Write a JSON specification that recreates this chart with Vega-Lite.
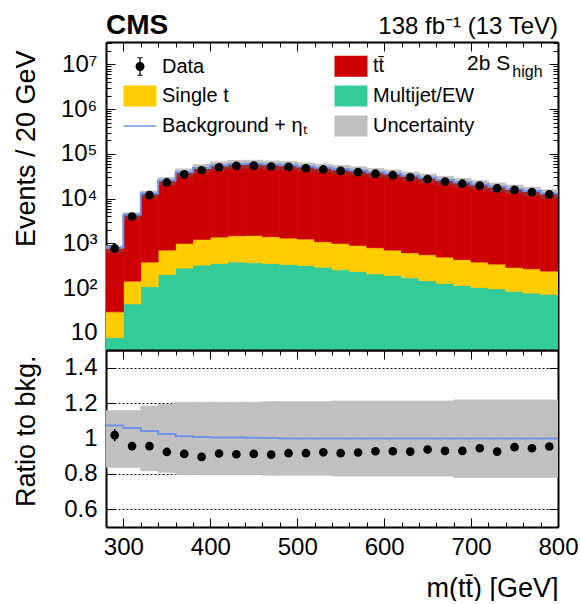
{
  "$schema": "https://vega.github.io/schema/vega-lite/v6.json",
  "background": "white",
  "padding": {"left": 11, "top": 12, "right": 0, "bottom": 0},
  "config": {
    "font": "Liberation Sans",
    "view": {"stroke": null},
    "axis": {
      "labelFont": "Liberation Sans", "titleFont": "Liberation Sans",
      "labelFontSize": 24, "titleFontSize": 27, "titleFontWeight": "normal",
      "labelColor": "black", "titleColor": "black",
      "domainColor": "black", "domainWidth": 2, "tickColor": "black", "tickWidth": 1,
      "grid": false, "zindex": 1, "labelFlush": false, "labelOverlap": false, "labelBound": false
    }
  },
  "datasets": {
    "bins": [
      {"lo": 280, "hi": 300, "c": 290, "mj": 7.9, "st": 29.7, "tot": 759, "up": 878, "dn": 635, "data": 773, "r": 1.019, "rup": 1.157, "rdn": 0.837, "elo": 0.984, "ehi": 1.054},
      {"lo": 300, "hi": 320, "c": 310, "mj": 44.9, "st": 144, "tot": 4180, "up": 4836, "dn": 3499, "data": 4000, "r": 0.957, "rup": 1.157, "rdn": 0.837, "elo": 0.948, "ehi": 0.966},
      {"lo": 320, "hi": 340, "c": 330, "mj": 108, "st": 384, "tot": 12500, "up": 14790, "dn": 10230, "data": 11960, "r": 0.957, "rup": 1.183, "rdn": 0.818, "elo": 0.95, "ehi": 0.964},
      {"lo": 340, "hi": 360, "c": 350, "mj": 203, "st": 711, "tot": 24900, "up": 29710, "dn": 20140, "data": 23010, "r": 0.924, "rup": 1.193, "rdn": 0.809, "elo": 0.918, "ehi": 0.93},
      {"lo": 360, "hi": 380, "c": 370, "mj": 282, "st": 1004, "tot": 38200, "up": 46030, "dn": 30450, "data": 34880, "r": 0.913, "rup": 1.205, "rdn": 0.797, "elo": 0.908, "ehi": 0.918},
      {"lo": 380, "hi": 400, "c": 390, "mj": 329, "st": 1233, "tot": 48000, "up": 57840, "dn": 38260, "data": 43010, "r": 0.896, "rup": 1.205, "rdn": 0.797, "elo": 0.891, "ehi": 0.901},
      {"lo": 400, "hi": 420, "c": 410, "mj": 358, "st": 1390, "tot": 54800, "up": 66030, "dn": 43680, "data": 50140, "r": 0.915, "rup": 1.205, "rdn": 0.797, "elo": 0.91, "ehi": 0.92},
      {"lo": 420, "hi": 440, "c": 430, "mj": 384, "st": 1489, "tot": 59100, "up": 71220, "dn": 47100, "data": 53840, "r": 0.911, "rup": 1.205, "rdn": 0.797, "elo": 0.906, "ehi": 0.916},
      {"lo": 440, "hi": 460, "c": 450, "mj": 371, "st": 1514, "tot": 59700, "up": 71940, "dn": 47580, "data": 54510, "r": 0.913, "rup": 1.205, "rdn": 0.797, "elo": 0.908, "ehi": 0.918},
      {"lo": 460, "hi": 480, "c": 470, "mj": 358, "st": 1415, "tot": 57600, "up": 69580, "dn": 45680, "data": 52360, "r": 0.909, "rup": 1.208, "rdn": 0.793, "elo": 0.904, "ehi": 0.914},
      {"lo": 480, "hi": 500, "c": 490, "mj": 340, "st": 1320, "tot": 55900, "up": 67530, "dn": 44330, "data": 51260, "r": 0.917, "rup": 1.208, "rdn": 0.793, "elo": 0.912, "ehi": 0.922},
      {"lo": 500, "hi": 520, "c": 510, "mj": 323, "st": 1254, "tot": 52000, "up": 62820, "dn": 41240, "data": 47680, "r": 0.917, "rup": 1.208, "rdn": 0.793, "elo": 0.912, "ehi": 0.922},
      {"lo": 520, "hi": 540, "c": 530, "mj": 295, "st": 1093, "tot": 48700, "up": 58830, "dn": 38620, "data": 44900, "r": 0.922, "rup": 1.208, "rdn": 0.793, "elo": 0.917, "ehi": 0.927},
      {"lo": 540, "hi": 560, "c": 550, "mj": 258, "st": 1004, "tot": 45400, "up": 55020, "dn": 35780, "data": 41630, "r": 0.917, "rup": 1.212, "rdn": 0.788, "elo": 0.912, "ehi": 0.922},
      {"lo": 560, "hi": 580, "c": 570, "mj": 237, "st": 906, "tot": 42400, "up": 51390, "dn": 33410, "data": 39050, "r": 0.921, "rup": 1.212, "rdn": 0.788, "elo": 0.916, "ehi": 0.926},
      {"lo": 580, "hi": 600, "c": 590, "mj": 210, "st": 803, "tot": 38900, "up": 47150, "dn": 30650, "data": 36100, "r": 0.928, "rup": 1.212, "rdn": 0.788, "elo": 0.923, "ehi": 0.933},
      {"lo": 600, "hi": 620, "c": 610, "mj": 193, "st": 711, "tot": 36000, "up": 43630, "dn": 28370, "data": 33410, "r": 0.928, "rup": 1.212, "rdn": 0.788, "elo": 0.923, "ehi": 0.933},
      {"lo": 620, "hi": 640, "c": 630, "mj": 171, "st": 621, "tot": 32400, "up": 39270, "dn": 25530, "data": 30000, "r": 0.926, "rup": 1.212, "rdn": 0.788, "elo": 0.92, "ehi": 0.932},
      {"lo": 640, "hi": 660, "c": 650, "mj": 147, "st": 560, "tot": 29200, "up": 35390, "dn": 23010, "data": 27390, "r": 0.938, "rup": 1.212, "rdn": 0.788, "elo": 0.932, "ehi": 0.944},
      {"lo": 660, "hi": 680, "c": 670, "mj": 128, "st": 497, "tot": 26000, "up": 31510, "dn": 20490, "data": 24180, "r": 0.93, "rup": 1.212, "rdn": 0.788, "elo": 0.924, "ehi": 0.936},
      {"lo": 680, "hi": 700, "c": 690, "mj": 115, "st": 440, "tot": 23200, "up": 28260, "dn": 18100, "data": 21580, "r": 0.93, "rup": 1.218, "rdn": 0.78, "elo": 0.924, "ehi": 0.936},
      {"lo": 700, "hi": 720, "c": 710, "mj": 104, "st": 384, "tot": 20700, "up": 25210, "dn": 16150, "data": 19560, "r": 0.945, "rup": 1.218, "rdn": 0.78, "elo": 0.938, "ehi": 0.952},
      {"lo": 720, "hi": 740, "c": 730, "mj": 97, "st": 346, "tot": 18400, "up": 22410, "dn": 14350, "data": 17040, "r": 0.926, "rup": 1.218, "rdn": 0.78, "elo": 0.919, "ehi": 0.933},
      {"lo": 740, "hi": 760, "c": 750, "mj": 85, "st": 292, "tot": 16500, "up": 20100, "dn": 12870, "data": 15690, "r": 0.951, "rup": 1.218, "rdn": 0.78, "elo": 0.944, "ehi": 0.958},
      {"lo": 760, "hi": 780, "c": 770, "mj": 78, "st": 272, "tot": 14800, "up": 18030, "dn": 11540, "data": 13990, "r": 0.945, "rup": 1.218, "rdn": 0.78, "elo": 0.938, "ehi": 0.952},
      {"lo": 780, "hi": 800, "c": 790, "mj": 73, "st": 241, "tot": 13000, "up": 15830, "dn": 10140, "data": 12420, "r": 0.955, "rup": 1.218, "rdn": 0.78, "elo": 0.948, "ehi": 0.962}
    ],
    "etaline": [
      {"edge": 280, "top": 815, "ratio": 1.074},
      {"edge": 300, "top": 4427, "ratio": 1.059},
      {"edge": 320, "top": 13025, "ratio": 1.042},
      {"edge": 340, "top": 25520, "ratio": 1.025},
      {"edge": 360, "top": 38700, "ratio": 1.013},
      {"edge": 380, "top": 48380, "ratio": 1.008},
      {"edge": 400, "top": 55130, "ratio": 1.006},
      {"edge": 420, "top": 59400, "ratio": 1.005},
      {"edge": 440, "top": 59940, "ratio": 1.004},
      {"edge": 460, "top": 57770, "ratio": 1.003},
      {"edge": 480, "top": 55900, "ratio": 1.0},
      {"edge": 500, "top": 52000, "ratio": 1.0},
      {"edge": 520, "top": 48700, "ratio": 1.0},
      {"edge": 540, "top": 45400, "ratio": 1.0},
      {"edge": 560, "top": 42400, "ratio": 1.0},
      {"edge": 580, "top": 38900, "ratio": 1.0},
      {"edge": 600, "top": 36000, "ratio": 1.0},
      {"edge": 620, "top": 32400, "ratio": 1.0},
      {"edge": 640, "top": 29200, "ratio": 1.0},
      {"edge": 660, "top": 26000, "ratio": 1.0},
      {"edge": 680, "top": 23200, "ratio": 1.0},
      {"edge": 700, "top": 20700, "ratio": 1.0},
      {"edge": 720, "top": 18400, "ratio": 1.0},
      {"edge": 740, "top": 16500, "ratio": 1.0},
      {"edge": 760, "top": 14800, "ratio": 1.0},
      {"edge": 780, "top": 13000, "ratio": 1.0},
      {"edge": 800, "top": 13000, "ratio": 1.0}
    ]
  },
  "spacing": 0,
  "bounds": "flush",
  "resolve": {"scale": {"color": "independent"}, "legend": {"color": "independent"}},
  "vconcat": [
    {
      "width": 452,
      "height": 308,
      "data": {"name": "bins"},
      "layer": [
        {
          "mark": {"type": "rect", "clip": true, "stroke": "#33cc99", "strokeWidth": 0.8},
          "encoding": {
            "x": {"field": "lo", "type": "quantitative", "scale": {"domain": [280, 800], "nice": false, "zero": false},
              "axis": {"orient": "bottom", "values": [300,320,340,360,380,400,420,440,460,480,500,520,540,560,580,600,620,640,660,680,700,720,740,760,780], "labels": false, "title": null,
                "tickSize": {"condition": {"test": "datum.value % 100 == 0", "value": -9}, "value": -5}}},
            "x2": {"field": "hi"},
            "y": {"field": "mj", "type": "quantitative", "scale": {"type": "log", "domain": [4.17, 31500000], "nice": false},
              "axis": {"orient": "left", "values": [5,6,7,8,9,10,20,30,40,50,60,70,80,90,100,200,300,400,500,600,700,800,900,1000,2000,3000,4000,5000,6000,7000,8000,9000,10000,20000,30000,40000,50000,60000,70000,80000,90000,100000,200000,300000,400000,500000,600000,700000,800000,900000,1000000,2000000,3000000,4000000,5000000,6000000,7000000,8000000,9000000,10000000,20000000,30000000],
                "labelExpr": "datum.value == 10 ? '10' : datum.value == 100 ? '10\u00b2' : datum.value == 1000 ? '10\u00b3' : datum.value == 10000 ? '10\u2074' : datum.value == 100000 ? '10\u2075' : datum.value == 1000000 ? '10\u2076' : datum.value == 10000000 ? '10\u2077' : ''",
                "tickSize": {"condition": {"test": "indexof([10,100,1000,10000,100000,1000000,10000000], datum.value) >= 0", "value": -9}, "value": -5},
                "labelPadding": 18, "title": "Events / 20 GeV", "titleAnchor": "end", "titleX": -72, "titleY": 8, "titleBaseline": "alphabetic"}},
            "y2": {"datum": 1},
            "color": {"datum": "Multijet/EW", "type": "nominal",
              "scale": {"domain": ["Data", "tt\u0304", "Single t", "Multijet/EW", "Background + \u03b7\u209c", "Uncertainty"],
                "range": ["black", "#cc0000", "#ffcc00", "#33cc99", "#6f93e8", "#c0c0c0"]},
              "legend": {"title": null, "orient": "none", "direction": "horizontal", "legendX": 24, "legendY": 14, "columns": 2, "columnPadding": 26, "rowPadding": 8,
                "symbolSize": 400, "labelFontSize": 20, "labelFont": "Liberation Sans", "labelColor": "black", "labelOffset": 12, "labelLimit": 400,
                "symbolStrokeWidth": 0, "symbolStrokeColor": "transparent", "symbolOpacity": 1,
                "symbolType": {"expr": "datum.value == 'Data' ? 'M-0.45,0A0.45,0.45,0,1,1,0.45,0A0.45,0.45,0,1,1,-0.45,0Z M-0.06,-0.93H0.06V0.93H-0.06Z M-0.25,-0.93H0.25V-0.83H-0.25Z M-0.25,0.83H0.25V0.93H-0.25Z' : indexof(datum.value, 'Background') == 0 ? 'M-1.65,-0.07H1.65V0.07H-1.65Z' : 'M-1.65,-1.05H1.65V1.05H-1.65Z'"}}}
          }
        },
        {
          "mark": {"type": "rect", "clip": true, "stroke": "#ffcc00", "strokeWidth": 0.8},
          "encoding": {
            "x": {"field": "lo", "type": "quantitative",
              "axis": {"orient": "top", "values": [300,320,340,360,380,400,420,440,460,480,500,520,540,560,580,600,620,640,660,680,700,720,740,760,780], "labels": false, "title": null,
                "tickSize": {"condition": {"test": "datum.value % 100 == 0", "value": -9}, "value": -5}}},
            "x2": {"field": "hi"},
            "y": {"field": "st", "type": "quantitative",
              "axis": {"orient": "right", "values": [5,6,7,8,9,10,20,30,40,50,60,70,80,90,100,200,300,400,500,600,700,800,900,1000,2000,3000,4000,5000,6000,7000,8000,9000,10000,20000,30000,40000,50000,60000,70000,80000,90000,100000,200000,300000,400000,500000,600000,700000,800000,900000,1000000,2000000,3000000,4000000,5000000,6000000,7000000,8000000,9000000,10000000,20000000,30000000],
                "labels": false, "title": null,
                "tickSize": {"condition": {"test": "indexof([10,100,1000,10000,100000,1000000,10000000], datum.value) >= 0", "value": -9}, "value": -5}}},
            "y2": {"field": "mj"},
            "color": {"datum": "Single t", "type": "nominal"}
          }
        },
        {
          "mark": {"type": "rect", "clip": true, "stroke": "#cc0000", "strokeWidth": 0.8},
          "encoding": {
            "x": {"field": "lo", "type": "quantitative", "axis": null},
            "x2": {"field": "hi"},
            "y": {"field": "tot", "type": "quantitative", "axis": null},
            "y2": {"field": "st"},
            "color": {"datum": "tt\u0304", "type": "nominal"}
          }
        },
        {
          "mark": {"type": "rect", "clip": true, "fill": "#c0c0c0", "stroke": "#c0c0c0", "strokeWidth": 0.8},
          "encoding": {
            "x": {"field": "lo", "type": "quantitative", "axis": null},
            "x2": {"field": "hi"},
            "y": {"field": "up", "type": "quantitative", "axis": null},
            "y2": {"field": "tot"}
          }
        },
        {
          "mark": {"type": "rect", "clip": true, "fill": "#a32828", "stroke": "#a32828", "strokeWidth": 0.8},
          "encoding": {
            "x": {"field": "lo", "type": "quantitative", "axis": null},
            "x2": {"field": "hi"},
            "y": {"field": "tot", "type": "quantitative", "axis": null},
            "y2": {"field": "dn"}
          }
        },
        {
          "data": {"name": "etaline"},
          "mark": {"type": "line", "interpolate": "step-after", "color": "#6f93e8", "strokeWidth": 2, "clip": true},
          "encoding": {
            "x": {"field": "edge", "type": "quantitative", "axis": null},
            "y": {"field": "top", "type": "quantitative", "axis": null}
          }
        },
        {
          "mark": {"type": "point", "filled": true, "fill": "black", "stroke": null, "size": 75, "opacity": 1},
          "encoding": {
            "x": {"field": "c", "type": "quantitative", "axis": null},
            "y": {"field": "data", "type": "quantitative", "axis": null}
          }
        },
        {
          "data": {"values": [{}]},
          "mark": {"type": "text", "text": "CMS", "font": "Liberation Sans", "fontSize": 28, "fontWeight": "bold", "align": "left", "baseline": "alphabetic", "dy": -8, "color": "black"},
          "encoding": {"x": {"datum": 280, "axis": null}, "y": {"datum": 31500000, "axis": null}}
        },
        {
          "data": {"values": [{}]},
          "mark": {"type": "text", "text": "138 fb\u207b\u00b9 (13 TeV)", "font": "Liberation Sans", "fontSize": 24, "align": "right", "baseline": "alphabetic", "dy": -8, "color": "black"},
          "encoding": {"x": {"datum": 800, "axis": null}, "y": {"datum": 31500000, "axis": null}}
        },
        {
          "data": {"values": [{}]},
          "mark": {"type": "text", "text": "2b S", "font": "Liberation Sans", "fontSize": 21, "align": "right", "baseline": "alphabetic", "dy": 6, "color": "black"},
          "encoding": {"x": {"datum": 745, "axis": null}, "y": {"datum": 10000000, "axis": null}}
        },
        {
          "data": {"values": [{}]},
          "mark": {"type": "text", "text": "high", "font": "Liberation Sans", "fontSize": 16, "align": "left", "baseline": "alphabetic", "dy": 13, "color": "black"},
          "encoding": {"x": {"datum": 747.5, "axis": null}, "y": {"datum": 10000000, "axis": null}}
        }
      ]
    },
    {
      "width": 452,
      "height": 177,
      "data": {"name": "bins"},
      "layer": [
        {
          "mark": {"type": "rect", "clip": true, "fill": "#c0c0c0", "stroke": "#c0c0c0", "strokeWidth": 0.8},
          "encoding": {
            "x": {"field": "lo", "type": "quantitative", "scale": {"domain": [280, 800], "nice": false, "zero": false},
              "axis": {"orient": "bottom", "values": [300,320,340,360,380,400,420,440,460,480,500,520,540,560,580,600,620,640,660,680,700,720,740,760,780,800],
                "labelExpr": "datum.value % 100 == 0 ? datum.label : ''",
                "tickSize": {"condition": {"test": "datum.value % 100 == 0", "value": -9}, "value": -5},
                "labelPadding": 17, "title": "m(tt\u0304) [GeV]", "titleAnchor": "end", "titleY": 69, "titleBaseline": "alphabetic"}},
            "x2": {"field": "hi"},
            "y": {"field": "rup", "type": "quantitative", "scale": {"domain": [0.5, 1.5], "nice": false, "zero": false},
              "axis": {"orient": "left", "values": [0.6, 0.8, 1, 1.2, 1.4], "format": "~g", "tickSize": -9, "labelPadding": 18,
                "grid": true, "gridColor": "black", "gridDash": [2, 2], "gridWidth": 1,
                "title": "Ratio to bkg.", "titleAnchor": "end", "titleX": -72, "titleY": 5, "titleBaseline": "alphabetic"}},
            "y2": {"field": "rdn"}
          }
        },
        {
          "data": {"name": "etaline"},
          "mark": {"type": "line", "interpolate": "step-after", "color": "#6f93e8", "strokeWidth": 2, "clip": true},
          "encoding": {
            "x": {"field": "edge", "type": "quantitative",
              "axis": {"orient": "top", "values": [300,320,340,360,380,400,420,440,460,480,500,520,540,560,580,600,620,640,660,680,700,720,740,760,780], "labels": false, "title": null,
                "tickSize": {"condition": {"test": "datum.value % 100 == 0", "value": -9}, "value": -5}}},
            "y": {"field": "ratio", "type": "quantitative",
              "axis": {"orient": "right", "values": [0.6, 0.8, 1, 1.2, 1.4], "labels": false, "title": null, "tickSize": -9}}
          }
        },
        {
          "mark": {"type": "rule", "color": "black", "strokeWidth": 1.5},
          "encoding": {
            "x": {"field": "c", "type": "quantitative", "axis": null},
            "y": {"field": "elo", "type": "quantitative", "axis": null},
            "y2": {"field": "ehi"}
          }
        },
        {
          "mark": {"type": "point", "filled": true, "fill": "black", "stroke": null, "size": 75, "opacity": 1},
          "encoding": {
            "x": {"field": "c", "type": "quantitative", "axis": null},
            "y": {"field": "r", "type": "quantitative", "axis": null}
          }
        }
      ]
    }
  ]
}
